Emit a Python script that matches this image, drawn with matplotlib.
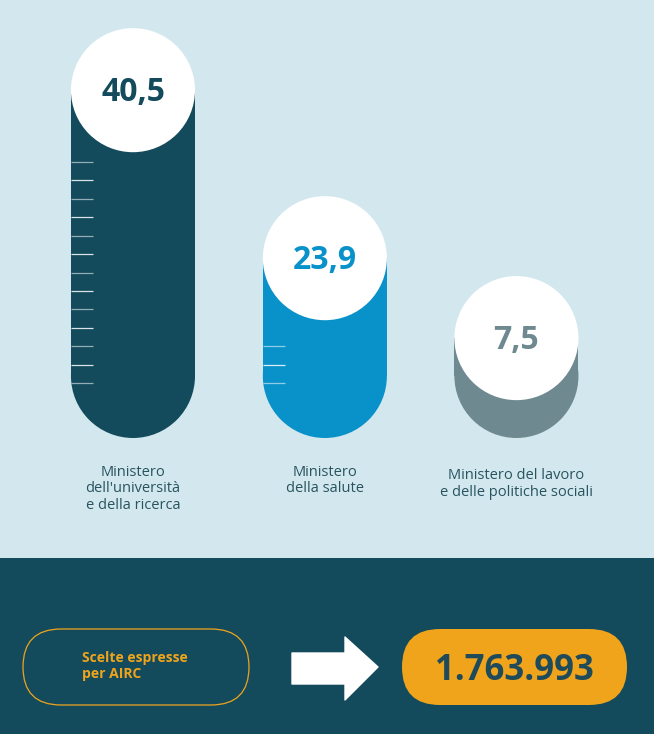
import matplotlib
matplotlib.use("Agg")
import matplotlib.pyplot as plt
from matplotlib.patches import Rectangle, Circle, FancyBboxPatch, Polygon

plt.rcParams['font.family'] = ['Open Sans', 'DejaVu Sans']

# dati
ministeri = ["Ministero\ndell'università\ne della ricerca",
             "Ministero\ndella salute",
             "Ministero del lavoro\ne delle politiche sociali"]
valori = [40.5, 23.9, 7.5]
scelte_label = "Scelte espresse\nper AIRC"
scelte_airc = 1763993

# stile
col_bg = '#d3e8ee'
col_dark = '#134b5c'
col_bars = ['#134b5c', '#0892c9', '#6f8990']
col_orange = '#f0a41c'
col_label = '#28535f'

W, H = 654, 734
ppu = 10.12            # pixel per unita'
base_px = 438          # base delle barre (px dall'alto)
x_centri = [13.14, 32.1, 51.03]
raggio = 6.13
min_alt = 16.0         # altezza minima della capsula
tick_start, tick_step, tick_len = 5.43, 1.82, 2.2
label_y = [-2.65, -2.65, -3.0]

fig = plt.figure(figsize=(W / 100, H / 100), dpi=100)
fig.patch.set_facecolor(col_bg)

# sfondo / pannello inferiore in pixel
bg = fig.add_axes([0, 0, 1, 1])
bg.set_xlim(0, W)
bg.set_ylim(H, 0)
bg.axis('off')
bg.add_patch(Rectangle((0, 558), W, H - 558, color=col_dark, lw=0))

# grafico a capsule
ax = fig.add_axes([0, (H - base_px) / H, 1, base_px / H])
ax.set_xlim(0, W / ppu)
ax.set_ylim(0, base_px / ppu)
ax.axis('off')

for xc, v, nome, c, ly in zip(x_centri, valori, ministeri, col_bars, label_y):
    top = max(v, min_alt)
    ax.add_patch(Circle((xc, raggio), raggio, color=c, lw=0))
    ax.add_patch(Rectangle((xc - raggio, raggio), 2 * raggio, top - 2 * raggio,
                           color=c, lw=0))
    ax.add_patch(Circle((xc, top - raggio), raggio, color='white', lw=0,
                        clip_on=False, zorder=3))
    # tacche
    k = 0
    yt = tick_start
    while yt < top - 2 * raggio - 0.8:
        ax.plot([xc - raggio, xc - raggio + tick_len], [yt, yt],
                color='white', lw=0.9, alpha=0.85 if k % 2 else 0.55,
                solid_capstyle='butt')
        k += 1
        yt = tick_start + k * tick_step
    ax.text(xc, top - raggio + 0.2, f"{v:.1f}".replace('.', ','), ha='center',
            va='center_baseline', fontsize=23, fontweight='bold', color=c,
            zorder=4)
    ax.text(xc, ly, nome, ha='center', va='top', fontsize=10.5,
            color=col_label, linespacing=1.15, clip_on=False)

# riquadro "Scelte espresse per AIRC"
bg.add_patch(FancyBboxPatch((23, 629), 226, 76,
                            boxstyle="round,pad=0,rounding_size=38",
                            fc='none', ec=col_orange, lw=0.9))
bg.text(82, 666, scelte_label, ha='left', va='center', fontsize=10,
        fontweight='bold', color=col_orange, linespacing=1.15)

# freccia
bg.add_patch(Polygon([(292, 653), (345, 653), (345, 637), (378, 667),
                      (345, 700), (345, 684), (292, 684)],
                     closed=True, fc='white', ec='white', lw=1, joinstyle='round'))

# totale
bg.add_patch(FancyBboxPatch((402, 629), 225, 76,
                            boxstyle="round,pad=0,rounding_size=38",
                            fc=col_orange, ec='none'))
bg.text(514.5, 667, f"{scelte_airc:,}".replace(',', '.'), ha='center',
        va='center_baseline', fontsize=25, fontweight='bold', color='#1f4a5a')

fig.savefig('out.png', dpi=100, facecolor=col_bg)
